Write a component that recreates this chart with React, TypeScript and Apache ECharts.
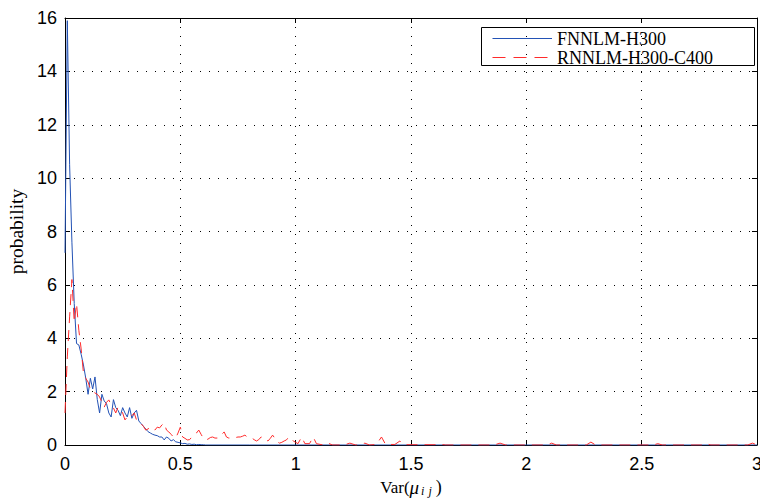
import React, { useEffect, useRef } from "react";
import * as echarts from "echarts";

// x tick labels
const xTicks = [0, 0.5, 1, 1.5, 2, 2.5, 3];
const yTicks = [0, 2, 4, 6, 8, 10, 12, 14, 16];

const seriesNames = ["FNNLM-H300", "RNNLM-H300-C400"];
const seriesColors = ["#2352b5", "#ff2b2b"];

// sampled every 0.01 from x = 0
const headStep = 0.01;
const fnnlmHead = [
  7.2, 15.9, 10.5, 7.6, 5.3, 3.8, 3.75, 3.4, 3.0, 2.5,
  1.9, 2.5, 2.1, 2.55, 1.7, 1.2, 1.9, 1.65, 1.55, 1.2,
  1.05, 1.7, 1.4, 1.3, 1.1, 1.4, 1.2, 1.05, 1.4, 1.0,
  1.2, 1.3, 0.9, 0.8, 0.7, 0.6, 0.5, 0.45, 0.4, 0.37,
  0.35, 0.3, 0.3, 0.19, 0.3, 0.25, 0.15, 0.2, 0.12, 0.1,
  0.08, 0.05, 0.06, 0.03, 0.04, 0.02, 0.03, 0.01, 0.02, 0.01,
  0.01, 0.0,
];
const fnnlmTail: [number, number][] = [
  [0.8, 0], [1.5, 0], [2, 0], [3, 0],
];

const rnnlmHead = [
  1.2, 3.3, 4.8, 6.2, 4.6, 5.3, 4.3, 3.6, 2.7, 2.5,
  2.36, 2.1, 2.0, 1.95, 1.9, 1.8, 1.6, 1.42, 1.6, 1.69,
  1.5, 1.39, 1.2, 1.42, 1.3, 1.2, 0.94, 1.05, 1.0, 1.1,
  1.2, 0.94, 0.85, 0.8, 0.7, 0.56, 0.6, 0.67, 0.6, 0.56,
  0.67, 0.64, 0.75, 0.82, 0.56, 0.49, 0.4, 0.3, 0.26, 0.45,
  0.67, 0.3, 0.25, 0.19, 0.2, 0.3, 0.4, 0.45, 0.56, 0.4,
  0.25, 0.19, 0.22, 0.28, 0.3, 0.26, 0.26, 0.3, 0.4, 0.49,
  0.3, 0.26, 0.26, 0.26, 0.28, 0.3, 0.3, 0.33, 0.37, 0.3,
  0.26, 0.26, 0.2, 0.15, 0.2, 0.3, 0.3, 0.2, 0.15, 0.25,
  0.37, 0.25, 0.12, 0.07, 0.1, 0.15, 0.19, 0.3, 0.2, 0.15,
  0.1,
];
const rnnlmTail: [number, number][] = [
  [1.01, 0.05], [1.026, 0.3], [1.04, 0.05], [1.06, 0.05], [1.076, 0.3],
  [1.09, 0.05], [1.12, 0], [1.14, 0.07], [1.16, 0], [1.21, 0],
  [1.235, 0.07], [1.26, 0], [1.28, 0], [1.3, 0.07], [1.32, 0],
  [1.35, 0.02], [1.372, 0.3], [1.39, 0.02], [1.43, 0.02], [1.452, 0.15],
  [1.47, 0.01], [1.6, 0.01], [1.625, 0.03], [1.65, 0], [1.86, 0],
  [1.886, 0.07], [1.91, 0], [2.09, 0], [2.11, 0.07], [2.13, 0],
  [2.26, 0], [2.28, 0.11], [2.3, 0], [2.55, 0], [2.57, 0.05],
  [2.59, 0], [2.76, 0], [2.78, 0.05], [2.8, 0], [2.96, 0],
  [2.98, 0.07], [3, 0],
];

function toPairs(head: number[], tail: [number, number][]): [number, number][] {
  const pts: [number, number][] = head.map((v, i) => [+(i * headStep).toFixed(3), v]);
  return pts.concat(tail);
}

export default function App() {
  const ref = useRef<HTMLDivElement>(null);
  useEffect(() => {
    if (!ref.current) return;
    const chart = echarts.init(ref.current, undefined, { renderer: "svg" });
    const serif = "'Liberation Serif', 'Times New Roman', serif";
    const sans = "'Liberation Sans', Arial, sans-serif";
    const splitStyle = { type: [1, 8] as number[], color: "#000", width: 1 };
    const dash = [13, 8];
    const boxAxis = {
      axisLine: { show: true, onZero: false, lineStyle: { color: "#000", width: 1 } },
      axisTick: { show: true, inside: true, length: 5, lineStyle: { color: "#000" } },
    };
    chart.setOption({
      animation: false,
      backgroundColor: "#fff",
      grid: { left: 65, right: 3, top: 18, bottom: 54, outerBoundsMode: "none", containLabel: false },
      graphic: [
        {
          type: "group",
          z: 100,
          children: [
            {
              type: "rect",
              shape: { x: 481.5, y: 27.5, width: 273, height: 38 },
              style: { fill: "#fff", stroke: "#000", lineWidth: 1 },
            },
            {
              type: "line",
              shape: { x1: 492.5, y1: 38.5, x2: 552, y2: 38.5 },
              style: { stroke: seriesColors[0], lineWidth: 1 },
            },
            {
              type: "line",
              shape: { x1: 492.5, y1: 57.5, x2: 552, y2: 57.5 },
              style: { stroke: seriesColors[1], lineWidth: 1, lineDash: dash },
            },
            {
              type: "text",
              x: 557,
              y: 38.5,
              style: {
                text: seriesNames[0],
                fontFamily: serif,
                fontSize: 18,
                fill: "#000",
                verticalAlign: "middle",
                align: "left",
              },
            },
            {
              type: "text",
              x: 557,
              y: 57.5,
              style: {
                text: seriesNames[1],
                fontFamily: serif,
                fontSize: 18,
                fill: "#000",
                verticalAlign: "middle",
                align: "left",
              },
            },
          ],
        },
      ],
      xAxis: [
        {
          type: "value",
          position: "bottom",
          min: xTicks[0],
          max: xTicks[xTicks.length - 1],
          interval: 0.5,
          ...boxAxis,
          axisLabel: { fontFamily: sans, fontSize: 18, color: "#000", margin: 10 },
          splitLine: { show: true, lineStyle: splitStyle },
          name: "{a|Var(}{b|μ}{c|i}{c|j}{d|)}",
          nameLocation: "middle",
          nameGap: 30,
          nameTextStyle: {
            rich: {
              a: { fontFamily: serif, fontSize: 17, color: "#000" },
              b: { fontFamily: serif, fontSize: 19, fontStyle: "italic", color: "#000" },
              c: { fontFamily: serif, fontSize: 12, fontStyle: "italic", color: "#000", padding: [7, 2, 0, 2] },
              d: { fontFamily: serif, fontSize: 18, color: "#000", padding: [0, 0, 0, 2] },
            },
          },
        },
        {
          type: "value",
          position: "top",
          min: xTicks[0],
          max: xTicks[xTicks.length - 1],
          interval: 0.5,
          ...boxAxis,
          axisLabel: { show: false },
          splitLine: { show: false },
        },
      ],
      yAxis: [
        {
          type: "value",
          position: "left",
          min: yTicks[0],
          max: yTicks[yTicks.length - 1],
          interval: 2,
          ...boxAxis,
          axisLabel: { fontFamily: sans, fontSize: 18, color: "#000", margin: 8 },
          splitLine: { show: true, lineStyle: splitStyle },
          name: "probability",
          nameLocation: "middle",
          nameGap: 35,
          nameTextStyle: { fontFamily: serif, fontSize: 19.5, color: "#000" },
        },
        {
          type: "value",
          position: "right",
          min: yTicks[0],
          max: yTicks[yTicks.length - 1],
          interval: 2,
          ...boxAxis,
          axisLabel: { show: false },
          splitLine: { show: false },
        },
      ],
      series: [
        {
          name: seriesNames[0],
          type: "line",
          xAxisIndex: 0,
          yAxisIndex: 0,
          symbol: "none",
          data: toPairs(fnnlmHead, fnnlmTail),
          lineStyle: { color: seriesColors[0], width: 1 },
          itemStyle: { color: seriesColors[0] },
        },
        {
          name: seriesNames[1],
          type: "line",
          xAxisIndex: 0,
          yAxisIndex: 0,
          symbol: "none",
          data: toPairs(rnnlmHead, rnnlmTail),
          lineStyle: { color: seriesColors[1], width: 1, type: [11, 7] },
          itemStyle: { color: seriesColors[1] },
        },
      ],
    });
    return () => chart.dispose();
  }, []);
  return (
    <div
      ref={ref}
      style={{ position: "fixed", left: 0, top: 0, width: 760, height: 499, background: "#fff" }}
    />
  );
}
